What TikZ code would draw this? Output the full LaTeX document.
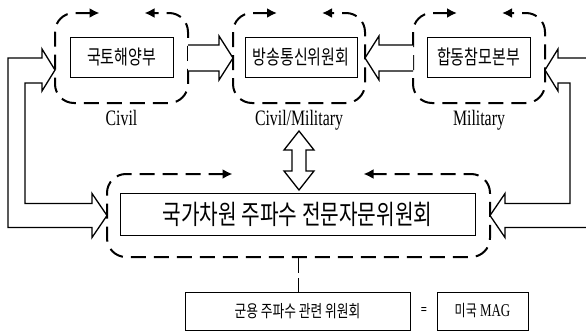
\documentclass[tikz,border=0pt]{standalone}
\usepackage{fontspec}
\setmainfont{Liberation Serif}[FakeStretch=0.72]
\newfontfamily\kr{Noto Sans CJK KR}[FakeStretch=0.75]
\usetikzlibrary{positioning,calc,arrows.meta}

\begin{document}
\begin{tikzpicture}[x=1pt,y=-1pt,inner sep=0pt,outer sep=0pt,
    box/.style={draw,line width=0.9pt,minimum height=40pt,font=\kr\fontsize{20}{22}\selectfont},
    group/.style={minimum width=133pt,minimum height=90pt},
    lbl/.style={font=\fontsize{22}{24}\selectfont},
    loopline/.style={line width=2pt,dash pattern=on 15pt off 8pt,rounded corners=19pt,
        >={Latex[length=10pt,width=10pt]},<->},
    hollow/.style={draw,fill=white,line width=1.3pt,line join=miter}]
    %
    \useasboundingbox (0,0) rectangle (586,332);
    \clip (0,0) rectangle (586,332);
    % top row
    \node[box,minimum width=103pt] (b1) at (121.5,57) {국토해양부};
    \node[box,minimum width=112pt] (b2) at (301,57) {방송통신위원회};
    \node[box,minimum width=103pt] (b3) at (478.5,57) {합동참모본부};
    \node[group] (g1) at (121.5,58) {};
    \node[group,minimum width=132pt] (g2) at (299,58) {};
    \node[group,minimum width=132pt] (g3) at (479,58) {};
    \node[lbl,below=7pt of g1] (l1) {Civil};
    \node[lbl,below=7pt of g2] (l2) {Civil/Military};
    \node[lbl,below=7pt of g3] (l3) {Military};
    % committee
    \node[box,minimum width=355pt,minimum height=42pt,font=\kr\fontsize{27}{30}\selectfont] (bb) at (297.5,214) {국가차원 주파수 전문자문위원회};
    \node[group,minimum width=383pt,minimum height=83pt] (gb) at (298.5,215.5) {};
    % bottom row
    \node[box,minimum width=225pt,minimum height=38pt,font=\kr\fontsize{17}{19}\selectfont] (mil) at (297.5,311) {군용 주파수 관련 위원회};
    \node[font=\bfseries\fontsize{15}{16}\selectfont] (eq) at (424,311) {=};
    \node[box,minimum width=91pt,minimum height=38pt,font=\fontsize{18}{20}\selectfont] (mag) at (482.5,311) {{\kr\fontsize{16}{18}\selectfont 미국} MAG};
    % dashed loops
    \draw[loopline] ($(g1.north)+(-22,0)$) -- (g1.north west) -- (g1.south west) -- (g1.south east) -- (g1.north east) -- ($(g1.north)+(23,0)$);
    \draw[loopline] ($(g2.north)+(-22,0)$) -- (g2.north west) -- (g2.south west) -- (g2.south east) -- (g2.north east) -- ($(g2.north)+(23,0)$);
    \draw[loopline] ($(g3.north)+(-22,0)$) -- (g3.north west) -- (g3.south west) -- (g3.south east) -- (g3.north east) -- ($(g3.north)+(23,0)$);
    \draw[loopline] ($(gb.north)+(-66,0)$) -- (gb.north west) -- (gb.south west) -- (gb.south east) -- (gb.north east) -- ($(gb.north)+(65,0)$);
    \draw[line width=0.8pt,dash pattern=on 16pt off 5pt] (gb.south) -- (gb.south |- mil.north);
    % hollow arrows
    \draw[hollow] ($(g1.east)+(0,-13)$) -- ($(g2.west)+(-14,-13)$) -- ++(0,-9) -- (g2.west) -- ++(-14,22) -- ++(0,-9) -- ($(g1.east)+(0,13)$);
    \draw[hollow] ($(g3.west)+(0,-13)$) -- ($(g2.east)+(14,-13)$) -- ++(0,-9) -- (g2.east) -- ++(14,22) -- ++(0,-9) -- ($(g3.west)+(0,13)$);
    \coordinate (up) at ($(g2.south)+(0,28)$);
    \coordinate (dn) at ($(up |- bb.north)+(0,-3)$);
    \draw[hollow] (up) -- ++(15,19) -- ++(-8,0) -- ($(dn)+(7,-19)$) -- ++(8,0) -- (dn) -- ++(-15,-19) -- ++(8,0) -- ($(up)+(-7,19)$) -- ++(-8,0) -- cycle;
    \coordinate (la) at ($(g1.west)+(0,12)$);
    \draw[hollow] (la) -- ++(-13,-21) -- ++(0,9) -- ++(-34,0) |- ($(gb.west)+(-15,12)$) -- ++(0,10) -- (gb.west) -- ++(-15,-22) -- ++(0,10) -| ($(la)+(-30,13)$) -- ++(17,0) -- ++(0,8) -- cycle;
    \coordinate (ra) at ($(g3.east)+(0,12)$);
    \draw[hollow] (ra) -- ++(13,-21) -- ++(0,9) -- ++(50,0) |- ($(gb.east)+(15,12)$) -- ++(0,10) -- (gb.east) -- ++(15,-22) -- ++(0,10) -| ($(ra)+(25,13)$) -- ++(-12,0) -- ++(0,8) -- cycle;
\end{tikzpicture}
\end{document}
